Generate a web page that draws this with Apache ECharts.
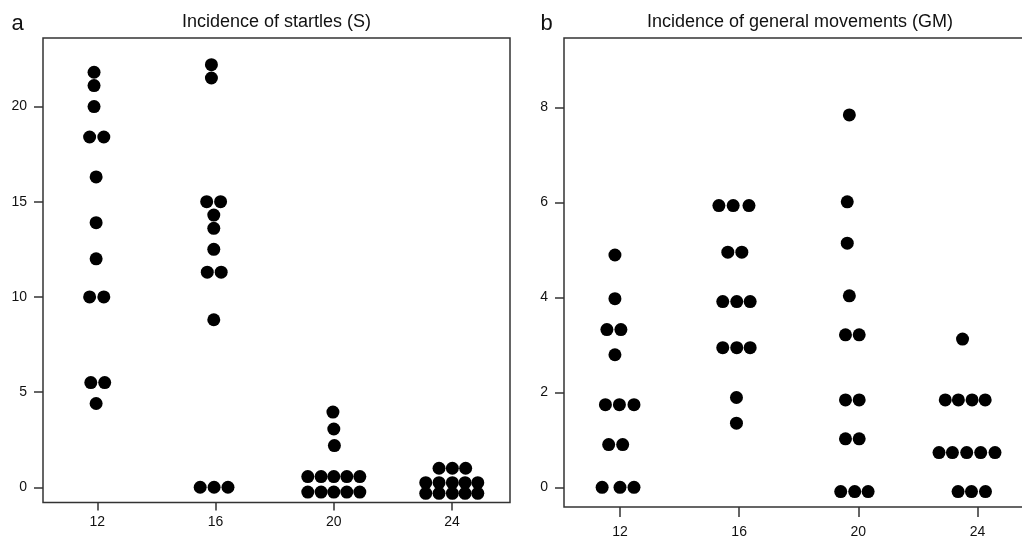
<!DOCTYPE html>
<html>
<head>
<meta charset="utf-8">
<script src="https://cdn.jsdelivr.net/npm/echarts@6/dist/echarts.min.js"></script>
<style>
html,body{margin:0;padding:0;background:#fff;}
#chart{width:1022px;height:536px;}
</style>
</head>
<body>
<div id="chart"></div>
<script>
// ---- Data ----
var weeks = [12, 16, 20, 24];
var startlesTicks = [0, 5, 10, 15, 20];
var gmTicks = [0, 2, 4, 6, 8];

// Panel a: Incidence of startles (S) — [swarm x position, value]
var startles12 = [[11.89,21.8],[11.89,21.1],[11.89,20.0],[11.74,18.4],[12.22,18.4],[11.96,16.3],[11.96,13.9],[11.96,12.0],[11.74,10.0],[12.22,10.0],[11.78,5.5],[12.25,5.5],[11.96,4.4]];
var startles16 = [[15.86,22.2],[15.86,21.5],[15.70,15.0],[16.17,15.0],[15.94,14.3],[15.94,13.6],[15.94,12.5],[15.72,11.3],[16.19,11.3],[15.94,8.8],[15.48,0],[15.95,0],[16.42,0]];
var startles20 = [[19.97,3.95],[20.0,3.06],[20.02,2.19],[19.12,0.56],[19.57,0.56],[20.0,0.56],[20.44,0.56],[20.88,0.56],[19.12,-0.25],[19.57,-0.25],[20.0,-0.25],[20.44,-0.25],[20.88,-0.25]];
var startles24 = [[23.56,1.0],[24.01,1.0],[24.46,1.0],[23.11,0.24],[23.56,0.24],[24.01,0.24],[24.44,0.24],[24.87,0.24],[23.11,-0.32],[23.56,-0.32],[24.01,-0.32],[24.44,-0.32],[24.87,-0.32]];

// Panel b: Incidence of general movements (GM)
var gm12 = [[11.83,4.89],[11.83,3.97],[11.56,3.32],[12.03,3.32],[11.83,2.79],[11.51,1.74],[11.98,1.74],[12.47,1.74],[11.62,0.90],[12.09,0.90],[11.40,0],[12.0,0],[12.47,0]];
var gm16 = [[15.32,5.93],[15.80,5.93],[16.33,5.93],[15.62,4.95],[16.09,4.95],[15.45,3.91],[15.92,3.91],[16.37,3.91],[15.45,2.94],[15.92,2.94],[16.37,2.94],[15.91,1.89],[15.91,1.35]];
var gm20 = [[19.70,7.84],[19.63,6.01],[19.63,5.14],[19.70,4.03],[19.57,3.21],[20.03,3.21],[19.57,1.84],[20.03,1.84],[19.57,1.02],[20.03,1.02],[19.41,-0.09],[19.88,-0.09],[20.33,-0.09]];
var gm24 = [[23.50,3.12],[22.92,1.84],[23.36,1.84],[23.82,1.84],[24.26,1.84],[22.71,0.73],[23.16,0.73],[23.64,0.73],[24.11,0.73],[24.59,0.73],[23.35,-0.09],[23.80,-0.09],[24.27,-0.09]];

var panelTitles = ['Incidence of startles (S)', 'Incidence of general movements (GM)'];
var panelLetters = ['a', 'b'];

// ---- Chart ----
var FONT = 'Liberation Sans, Arial, Helvetica, sans-serif';
var chart = echarts.init(document.getElementById('chart'), null, {renderer: 'canvas'});

function xAxisCfg(gridIndex, min, max, tickLen, margin) {
  return {
    type: 'value', gridIndex: gridIndex, min: min, max: max, position: 'bottom',
    axisLine: {show: false, onZero: false},
    splitLine: {show: false},
    axisTick: {show: true, inside: false, length: tickLen, customValues: weeks,
      lineStyle: {color: '#333', width: 1.5}},
    axisLabel: {show: true, margin: margin, customValues: weeks,
      color: '#111', fontSize: 14, fontFamily: FONT}
  };
}
function yAxisCfg(gridIndex, min, max, ticks) {
  return {
    type: 'value', gridIndex: gridIndex, min: min, max: max, position: 'left',
    axisLine: {show: false, onZero: false},
    splitLine: {show: false},
    axisTick: {show: true, inside: false, length: 9, customValues: ticks,
      lineStyle: {color: '#333', width: 1.5}},
    axisLabel: {show: true, margin: 16, customValues: ticks,
      color: '#111', fontSize: 14, fontFamily: FONT}
  };
}
function dots(xi, data) {
  return {
    type: 'scatter', xAxisIndex: xi, yAxisIndex: xi, data: data,
    symbol: 'circle', symbolSize: 13,
    itemStyle: {color: '#000', opacity: 1},
    silent: true, animation: false
  };
}

var option = {
  backgroundColor: '#fff',
  animation: false,
  grid: [
    {left: 43, top: 38, width: 467, height: 464.5, show: true, borderColor: '#333', borderWidth: 1.5, backgroundColor: 'transparent', containLabel: false, outerBoundsMode: 'none'},
    {left: 564, top: 38, width: 473, height: 469, show: true, borderColor: '#333', borderWidth: 1.5, backgroundColor: 'transparent', containLabel: false, outerBoundsMode: 'none'}
  ],
  xAxis: [
    xAxisCfg(0, 10.163, 25.96, 8, 13),
    xAxisCfg(1, 10.12, 26.0, 10, 18)
  ],
  yAxis: [
    yAxisCfg(0, -0.80, 23.6, startlesTicks),
    yAxisCfg(1, -0.415, 9.459, gmTicks)
  ],
  graphic: [
    {type: 'text', x: 276.5, y: 22, style: {text: panelTitles[0], font: '18px ' + FONT, fill: '#111', align: 'center', verticalAlign: 'middle'}},
    {type: 'text', x: 800, y: 22, style: {text: panelTitles[1], font: '18px ' + FONT, fill: '#111', align: 'center', verticalAlign: 'middle'}},
    {type: 'text', x: 17.5, y: 24, style: {text: panelLetters[0], font: '22px ' + FONT, fill: '#111', align: 'center', verticalAlign: 'middle'}},
    {type: 'text', x: 546.5, y: 24, style: {text: panelLetters[1], font: '22px ' + FONT, fill: '#111', align: 'center', verticalAlign: 'middle'}}
  ],
  series: [
    dots(0, startles12), dots(0, startles16), dots(0, startles20), dots(0, startles24),
    dots(1, gm12), dots(1, gm16), dots(1, gm20), dots(1, gm24)
  ]
};
chart.setOption(option);
</script>
</body>
</html>
